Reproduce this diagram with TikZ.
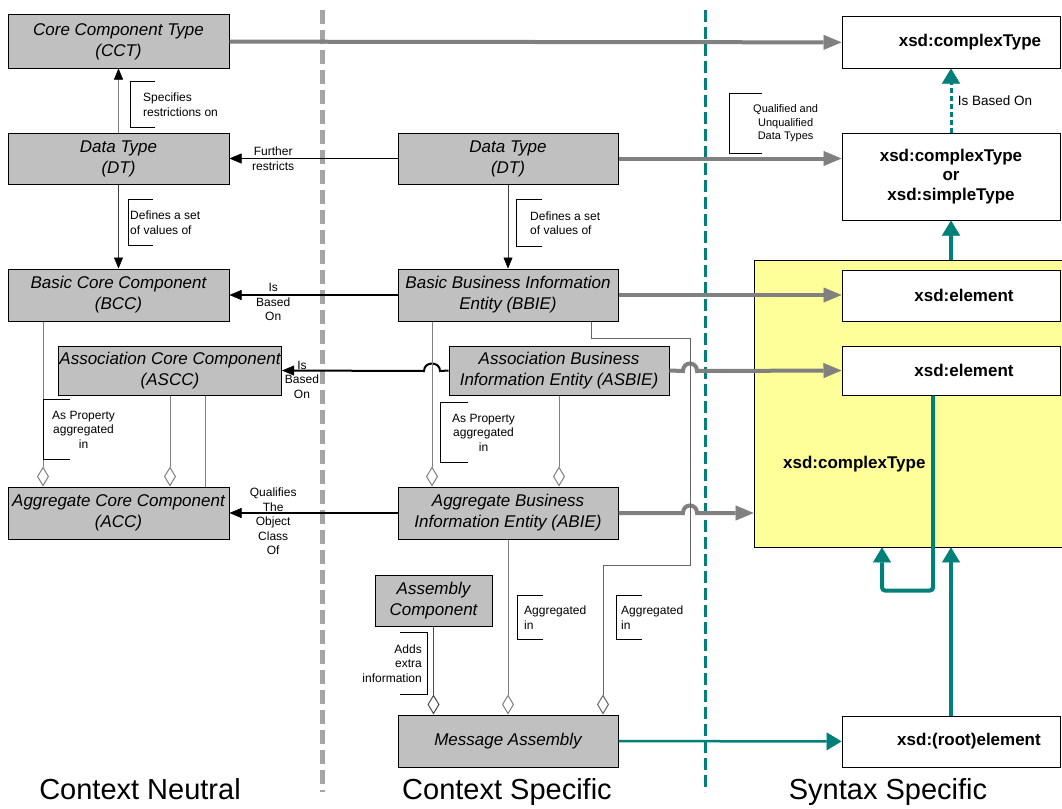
\documentclass[tikz,border=0pt]{standalone}
\usepackage{fontspec}
\setmainfont{Liberation Sans}
\usetikzlibrary{arrows.meta}
\definecolor{boxgray}{RGB}{192,192,192}
\definecolor{linegray}{RGB}{128,128,128}
\definecolor{divgray}{RGB}{165,165,165}
\definecolor{xsdteal}{RGB}{0,128,120}
\definecolor{ctyellow}{RGB}{255,255,153}
\newcommand{\ccfont}{\fontsize{17}{21}\selectfont\itshape}
\newcommand{\xsdfont}{\fontsize{17}{19.5}\selectfont\bfseries}
\newcommand{\notefont}{\fontsize{12}{14.5}\selectfont}
\newcommand{\sidefont}{\fontsize{29}{34}\selectfont}

\begin{document}
\begin{tikzpicture}[x=1pt, y=-1pt,
  cc/.style={draw, fill=boxgray, line width=1pt, inner sep=1pt, align=center, font=\ccfont},
  xsd/.style={draw, fill=white, line width=1pt, inner sep=1pt, minimum width=218pt, align=center, font=\xsdfont},
  anno/.style={font=\notefont, inner ysep=0pt, align=left, anchor=west},
  lbl/.style={font=\notefont, align=center},
  side/.style={font=\sidefont, anchor=base},
  brk/.style={draw=black, line width=0.8pt},
  garr/.style={draw=linegray, line width=4pt, -{Triangle[length=18pt, width=15pt, line width=0.5pt]}},
  barr/.style={draw=black, line width=2.5pt, -{Triangle[length=12pt, width=10pt, line width=0.5pt]}},
  tharr/.style={draw=black!75, line width=1pt, -{Triangle[color=black, length=11pt, width=9pt, line width=0.5pt]}},
  tarr/.style={draw=xsdteal, line width=4pt, -{Triangle[length=15pt, width=18pt, line width=0.5pt]}},
  agg/.style={draw=linegray, line width=1pt, -{Diamond[fill=white, length=20pt, width=12pt, line width=1pt]}},
  gdiv/.style={draw=divgray, line width=5pt, dash pattern=on 14pt off 6pt},
  tdiv/.style={draw=xsdteal, line width=3pt, dash pattern=on 12pt off 5pt}
]
\useasboundingbox (0,0) rectangle (1062,808);

% dividers
\draw[gdiv] (322,10) -- (322,792);
\draw[tdiv] (705,10) -- (705,792);

% context neutral
\node[cc, minimum width=221pt, minimum height=53pt] (cct) at (118.5,41.5) {Core Component Type\\(CCT)};
\node[cc, minimum width=221pt, minimum height=51pt] (dtn) at (118.5,158.5) {Data Type\\(DT)};
\node[cc, minimum width=221pt, minimum height=52pt] (bcc) at (118.5,295) {Basic Core Component\\(BCC)};
\node[cc, minimum width=220pt, minimum height=49pt] (ascc) at (170,370.5) {Association Core Component\\(ASCC)};
\node[cc, minimum width=221pt, minimum height=52pt] (acc) at (118.5,513) {Aggregate Core Component\\(ACC)};

% context specific
\node[cc, minimum width=220pt, minimum height=51pt] (dts) at (508,158.5) {Data Type\\(DT)};
\node[cc, minimum width=220pt, minimum height=52pt] (bbie) at (508,295) {Basic Business Information\\Entity (BBIE)};
\node[cc, minimum width=220pt, minimum height=49pt] (asbie) at (559,370.5) {Association Business\\Information Entity (ASBIE)};
\node[cc, minimum width=220pt, minimum height=52pt] (abie) at (508,513) {Aggregate Business\\Information Entity (ABIE)};
\node[cc, minimum width=117pt, minimum height=51pt] (asmcomp) at (433.5,600.5) {Assembly\\Component};
\node[cc, minimum width=220pt, minimum height=52pt] (msgasm) at (508,741) {Message Assembly};

% syntax specific
\node[draw, fill=ctyellow, line width=0.8pt, minimum width=310pt, minimum height=287pt,
  label={[font=\xsdfont, anchor=west, xshift=26pt, yshift=-61pt]west:{xsd:complexType}}] (cplx) at (909,403.5) {};
\node[xsd, minimum height=51pt] (ctop) at (951,42.5) {\hspace*{38pt}xsd:complexType};
\node[xsd, minimum height=87pt] (csimple) at (951,176.5) {xsd:complexType\\or\\xsd:simpleType};
\node[xsd, minimum height=51pt] (elem1) at (951,295.5) {\hspace*{26pt}xsd:element};
\node[xsd, minimum height=49pt] (elem2) at (951,370.5) {\hspace*{26pt}xsd:element};
\node[xsd, minimum height=51pt] (rootel) at (951,741.5) {\hspace*{36pt}xsd:(root)element};

\node[side] (neut) at (140,799) {Context Neutral};
\node[side] (spec) at (507,799) {Context Specific};
\node[side] (synt) at (888,799) {Syntax Specific};

% mappings to syntax
\draw[garr] (cct) -- (ctop);
\draw[garr] (dts.east) -- (dts.east -| csimple.west);
\draw[garr] (bbie.east) -- (bbie.east -| elem1.west);
\draw[garr] (asbie.east) -- (683,371) .. controls (683,361) and (697,361) .. (697,371) -- (elem2.west);
\draw[garr] (abie.east) -- (683,513) .. controls (683,503) and (697,503) .. (697,513) -- (abie.east -| cplx.west);

% based on
\draw[tharr, draw=linegray] (dtn) -- (cct);
\draw[tharr] (dtn) -- (bcc);
\draw[tharr] (dts) -- (bbie);
\draw[barr, line width=1.8pt] (dts) -- (dtn) node[lbl, pos=0.74] {Further\\restricts};
\draw[barr] (bbie) -- (bcc) node[lbl, pos=0.74, yshift=-7pt] {Is\\Based\\On};
\draw[barr, line width=2pt] (asbie.west) -- (440,371) .. controls (440,361) and (424,361) .. (424,371)
  -- (ascc.east) node[lbl, pos=0.86, yshift=-9pt] {Is\\Based\\On};
\draw[barr] (abie) -- (acc) node[lbl, pos=0.74, yshift=-8.5pt] {Qualifies\\The\\Object\\Class\\Of};

% aggregation
\draw[agg] ([xshift=-75.5pt]bcc.south) -- ([xshift=-75.5pt]acc.north);
\draw[agg] (ascc.south) -- (ascc.south |- acc.north);
\draw[linegray, line width=1pt] ([xshift=35pt]ascc.south) -- ([xshift=35pt]ascc.south |- acc.north);
\draw[agg] ([xshift=-76pt]bbie.south) -- ([xshift=-76pt]abie.north);
\draw[agg] (asbie.south) -- (asbie.south |- abie.north);
\draw[agg] (abie) -- (msgasm);
\draw[agg, draw=black!70] (asmcomp.south) -- (asmcomp.south |- msgasm.north);
\draw[agg, draw=black!60] ([xshift=83pt]bbie.south) -- ++(0,17) -- ++(99,0) -- ++(0,227) -- ++(-87,0)
  -- ([xshift=95pt]msgasm.north);

% syntax links
\draw[tarr, line width=3pt, dash pattern=on 5pt off 3pt] (csimple) -- (ctop)
  node[midway, right, xshift=2pt, font=\fontsize{13.5}{16}\selectfont] {Is Based On};
\draw[tarr] (csimple.south |- cplx.north) -- (csimple.south);
\draw[tarr, rounded corners=3pt] ([xshift=-18pt]elem2.south) -- ++(0,195) -- ++(-51,0) -- ([xshift=-27pt]cplx.south);
\draw[tarr] (rootel.north) -- (rootel.north |- cplx.south);
\draw[tarr, line width=2.5pt] (msgasm) -- (rootel);

% remarks
\node[anno, minimum height=45pt, inner xsep=13pt] (sprestr) at (130,104.5) {Specifies\\restrictions on};
\node[anno, minimum height=45pt, inner xsep=2pt] (defsetn) at (128,222.5) {Defines a set\\of values of};
\node[anno, minimum height=46pt, inner xsep=14pt] (defsets) at (516,223) {Defines a set\\of values of};
\node[anno, minimum height=59pt, inner xsep=24pt, align=center, font=\fontsize{11}{13.5}\selectfont] (qualdt) at (729,123.5) {Qualified and\\Unqualified\\Data Types};
\node[anno, minimum height=59pt, inner xsep=9pt, align=center] (propn) at (43,429.5) {As Property\\aggregated\\in};
\node[anno, minimum height=59pt, inner xsep=12pt, align=center] (props) at (440,432.5) {As Property\\aggregated\\in};
\node[anno, minimum height=43pt, inner xsep=7pt] (aggabie) at (517,617.5) {Aggregated\\in};
\node[anno, minimum height=43pt, inner xsep=5pt] (aggbbie) at (616,617.5) {Aggregated\\in};
\node[anno, minimum height=61pt, inner xsep=5pt, align=right, anchor=east] (addinfo) at (427,663.5) {Adds\\extra\\information};

\draw[brk] ([xshift=25pt]sprestr.north west) -| (sprestr.south west) -- ++(25,0);
\draw[brk] ([xshift=25pt]defsetn.north west) -| (defsetn.south west) -- ++(25,0);
\draw[brk] ([xshift=26pt]defsets.north west) -| (defsets.south west) -- ++(26,0);
\draw[brk] ([xshift=33pt]qualdt.north west) -| (qualdt.south west) -- ++(33,0);
\draw[brk] ([xshift=27pt]propn.north west) -| (propn.south west) -- ++(27,0);
\draw[brk] ([xshift=28pt]props.north west) -| (props.south west) -- ++(28,0);
\draw[brk] ([xshift=26pt]aggabie.north west) -| (aggabie.south west) -- ++(26,0);
\draw[brk] ([xshift=26pt]aggbbie.north west) -| (aggbbie.south west) -- ++(26,0);
\draw[brk] ([xshift=-27pt]addinfo.north east) -| (addinfo.south east) -- ++(-27,0);
\end{tikzpicture}
\end{document}
